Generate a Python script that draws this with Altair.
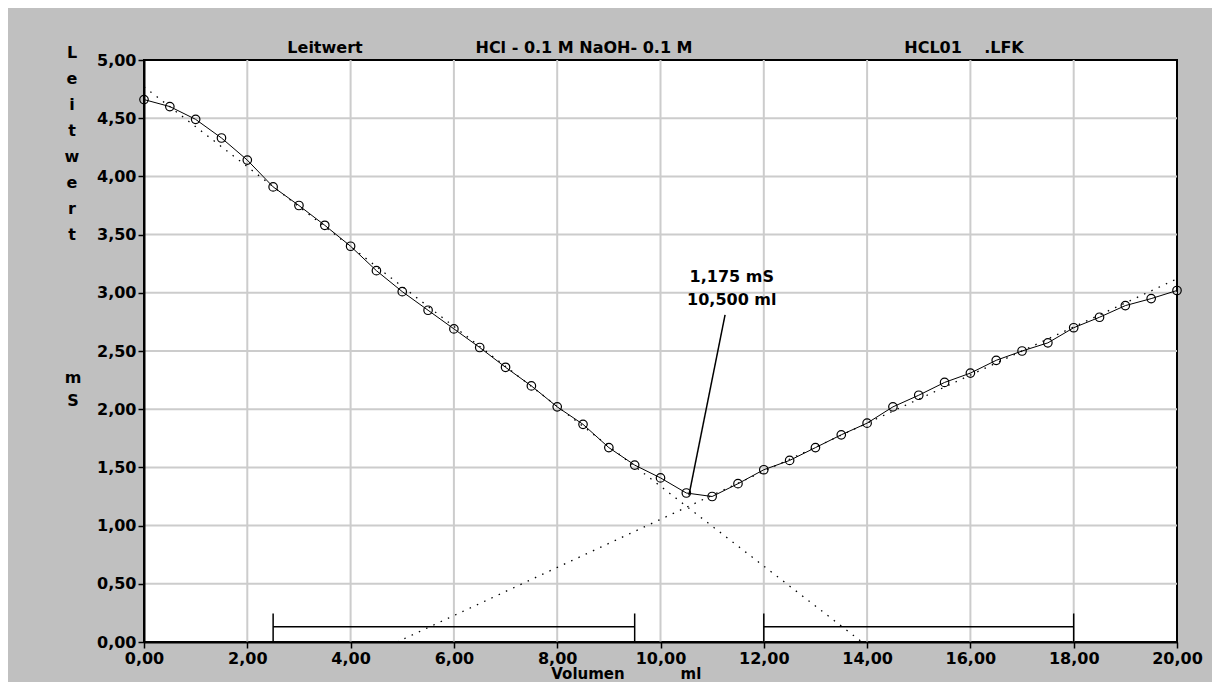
import altair as alt
import pandas as pd

# ---------------- data ----------------
volume_ml = [0.0, 0.5, 1.0, 1.5, 2.0, 2.5, 3.0, 3.5, 4.0, 4.5, 5.0, 5.5, 6.0, 6.5,
             7.0, 7.5, 8.0, 8.5, 9.0, 9.5, 10.0, 10.5, 11.0, 11.5, 12.0, 12.5,
             13.0, 13.5, 14.0, 14.5, 15.0, 15.5, 16.0, 16.5, 17.0, 17.5, 18.0,
             18.5, 19.0, 19.5, 20.0]
conductance_mS = [4.66, 4.60, 4.49, 4.33, 4.14, 3.91, 3.75, 3.58, 3.40, 3.19,
                  3.01, 2.85, 2.69, 2.53, 2.36, 2.20, 2.02, 1.87, 1.67, 1.52,
                  1.41, 1.28, 1.25, 1.36, 1.48, 1.56, 1.67, 1.78, 1.88, 2.02,
                  2.12, 2.23, 2.31, 2.42, 2.50, 2.57, 2.70, 2.79, 2.89, 2.95, 3.02]

# regression (dotted) lines
fit_segment = ["acid", "acid", "base", "base"]
fit_volume = [0.0, 13.9, 4.9, 20.0]
fit_conductance = [4.77, 0.0, 0.0, 3.12]

# fit ranges (brackets at the bottom)
range_start = [2.5, 12.0]
range_end = [9.5, 18.0]
range_level = [0.13, 0.13]
range_tick_x = [2.5, 9.5, 12.0, 18.0]
range_tick_base = [0.0, 0.0, 0.0, 0.0]
range_tick_top = [0.245, 0.245, 0.245, 0.245]

# equivalence point annotation
eq_labels = ["1,175 mS", "10,500 ml"]
eq_label_x = [11.38, 11.38]
eq_label_y = [3.136, 2.938]
pointer_x = [10.55]
pointer_y = [1.26]
pointer_x2 = [11.25]
pointer_y2 = [2.81]

# axes
x_ticks = [0, 2, 4, 6, 8, 10, 12, 14, 16, 18, 20]
y_ticks = [0.0, 0.5, 1.0, 1.5, 2.0, 2.5, 3.0, 3.5, 4.0, 4.5, 5.0]
x_grid = [2, 4, 6, 8, 10, 12, 14, 16, 18]
y_grid = [0.5, 1.0, 1.5, 2.0, 2.5, 3.0, 3.5, 4.0, 4.5]

header_texts = ["Leitwert", "HCl - 0.1 M NaOH- 0.1 M", "HCL01\u00a0\u00a0\u00a0\u00a0.LFK"]
y_title_letters = list("Leitwert")
y_unit_letters = list("mS")
x_title_texts = ["Volumen", "ml"]

# ---------------- chart ----------------
FONT = "DejaVu Sans"
W, H = 1033, 582

xs = alt.Scale(domain=[0, 20], nice=False, zero=False)
ys = alt.Scale(domain=[0, 5], nice=False, zero=False)
label_expr = "replace(format(datum.value, '.2f'), '.', ',')"

x_axis = alt.Axis(values=x_ticks, labelExpr=label_expr, tickSize=6, tickColor="black",
                  tickWidth=1.5, domainColor="black", domainWidth=2, labelFont=FONT,
                  labelFontWeight="bold", labelFontSize=16, labelColor="black",
                  labelPadding=2, labelFlush=False, labelOverlap=False, grid=False,
                  title="", zindex=1)
y_axis = alt.Axis(values=y_ticks, labelExpr=label_expr, tickSize=6, tickColor="black",
                  tickWidth=1.5, domainColor="black", domainWidth=2, labelFont=FONT,
                  labelFontWeight="bold", labelFontSize=16, labelColor="black",
                  labelPadding=2, labelFlush=False, labelOverlap=False, grid=False,
                  title="", zindex=1)


def X(field):
    return alt.X(field, type="quantitative", scale=xs, axis=x_axis)


def Y(field):
    return alt.Y(field, type="quantitative", scale=ys, axis=y_axis)


grid_x = alt.Chart(pd.DataFrame({"gx": x_grid})).mark_rule(
    color="#cccccc", strokeWidth=2).encode(x=X("gx"))
grid_y = alt.Chart(pd.DataFrame({"gy": y_grid})).mark_rule(
    color="#cccccc", strokeWidth=2).encode(y=Y("gy"))

fit_df = pd.DataFrame({"seg": fit_segment, "v": fit_volume, "c": fit_conductance})
fits = alt.Chart(fit_df).mark_line(color="black", strokeWidth=1.3,
                                   strokeDash=[1.5, 6.5]).encode(
    x=X("v"), y=Y("c"), detail="seg:N")

rng_df = pd.DataFrame({"s": range_start, "e": range_end, "l": range_level})
brackets = alt.Chart(rng_df).mark_rule(color="black", strokeWidth=1.5).encode(
    x=X("s"), x2="e", y=Y("l"))
tick_df = pd.DataFrame({"tx": range_tick_x, "b": range_tick_base, "t": range_tick_top})
bracket_ticks = alt.Chart(tick_df).mark_rule(color="black", strokeWidth=1.5).encode(
    x=X("tx"), y=Y("b"), y2="t")

data_df = pd.DataFrame({"v": volume_ml, "c": conductance_mS})
line = alt.Chart(data_df).mark_line(color="black", strokeWidth=1).encode(
    x=X("v"), y=Y("c"))
points = alt.Chart(data_df).mark_point(shape="circle", filled=False, size=72,
                                       color="black", strokeWidth=1.2, opacity=1).encode(
    x=X("v"), y=Y("c"))

ptr_df = pd.DataFrame({"x": pointer_x, "y": pointer_y, "x2": pointer_x2, "y2": pointer_y2})
pointer = alt.Chart(ptr_df).mark_rule(color="black", strokeWidth=1.5).encode(
    x=X("x"), y=Y("y"), x2="x2", y2="y2")

lab_df = pd.DataFrame({"t": eq_labels, "x": eq_label_x, "y": eq_label_y})
eq_text = alt.Chart(lab_df).mark_text(font=FONT, fontWeight="bold", fontSize=16,
                                      color="black", align="center",
                                      baseline="middle").encode(
    x=X("x"), y=Y("y"), text="t:N")


def fixed_text(txt, x, y, size=16):
    return alt.Chart(pd.DataFrame({"t": [txt]})).mark_text(
        font=FONT, fontWeight="bold", fontSize=size, color="black", align="center",
        baseline="alphabetic").encode(x=alt.value(x), y=alt.value(y), text="t:N")


header1 = fixed_text(header_texts[0], 181, -7)
header2 = fixed_text(header_texts[1], 440, -7)
header3 = fixed_text(header_texts[2], 820, -7)
xt1 = fixed_text(x_title_texts[0], 444, 619, size=15)
xt2 = fixed_text(x_title_texts[1], 547, 619, size=15)

ytitle = alt.Chart(pd.DataFrame({"t": [0]})).mark_text(
    text=y_title_letters, font=FONT, fontWeight="bold", fontSize=16, color="black",
    align="center", baseline="alphabetic", lineHeight=26).encode(
    x=alt.value(-72), y=alt.value(-2))
yunit = alt.Chart(pd.DataFrame({"t": [0]})).mark_text(
    text=y_unit_letters, font=FONT, fontWeight="bold", fontSize=16, color="black",
    align="center", baseline="alphabetic", lineHeight=23).encode(
    x=alt.value(-71), y=alt.value(323))

chart = alt.layer(
    grid_x, grid_y, fits, brackets, bracket_ticks, line, points, pointer, eq_text,
    header1, header2, header3, xt1, xt2, ytitle, yunit
).properties(
    width=W, height=H,
    autosize=alt.AutoSizeParams(type="none"),
    padding={"left": 136, "top": 52, "right": 35, "bottom": 40},
    background="#c0c0c0",
).configure_view(
    fill="white", stroke="black", strokeWidth=2
)

chart.save("out.html", embed_options={"renderer": "svg", "actions": False})
